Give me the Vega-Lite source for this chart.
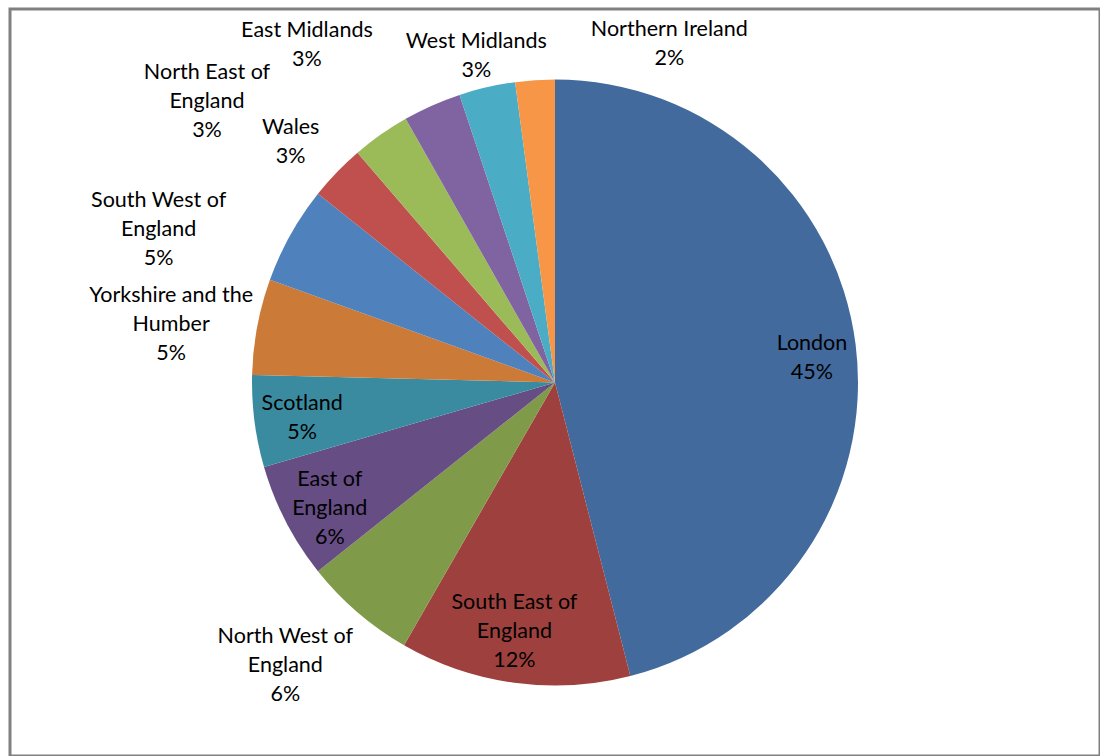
{
  "$schema": "https://vega.github.io/schema/vega-lite/v6.json",
  "width": 1090,
  "height": 747,
  "autosize": {"type": "none"},
  "padding": {"left": 10, "top": 9, "right": 0, "bottom": 0},
  "background": "white",
  "view": {"stroke": "#808080", "strokeWidth": 3},
  "data": {
    "values": [
      {"region": "London", "label": "London\n45%", "value": 46.0, "rank": 1},
      {"region": "South East of England", "label": "South East of\nEngland\n12%", "value": 12.3, "rank": 2},
      {"region": "North West of England", "label": "North West of\nEngland\n6%", "value": 6.0, "rank": 3},
      {"region": "East of England", "label": "East of\nEngland\n6%", "value": 6.2, "rank": 4},
      {"region": "Scotland", "label": "Scotland\n5%", "value": 4.9, "rank": 5},
      {"region": "Yorkshire and the Humber", "label": "Yorkshire and the\nHumber\n5%", "value": 5.1, "rank": 6},
      {"region": "South West of England", "label": "South West of\nEngland\n5%", "value": 5.2, "rank": 7},
      {"region": "Wales", "label": "Wales\n3%", "value": 3.0, "rank": 8},
      {"region": "North East of England", "label": "North East of\nEngland\n3%", "value": 3.1, "rank": 9},
      {"region": "East Midlands", "label": "East Midlands\n3%", "value": 3.1, "rank": 10},
      {"region": "West Midlands", "label": "West Midlands\n3%", "value": 3.0, "rank": 11},
      {"region": "Northern Ireland", "label": "Northern Ireland\n2%", "value": 2.1, "rank": 12}
    ]
  },
  "encoding": {
    "theta": {"field": "value", "type": "quantitative", "stack": true},
    "order": {"field": "rank", "type": "quantitative"}
  },
  "layer": [
    {
      "mark": {"type": "arc", "outerRadius": 303},
      "encoding": {
        "color": {
          "field": "region",
          "type": "nominal",
          "legend": null,
          "scale": {
            "domain": ["London", "South East of England", "North West of England", "East of England", "Scotland", "Yorkshire and the Humber", "South West of England", "Wales", "North East of England", "East Midlands", "West Midlands", "Northern Ireland"],
            "range": ["#426A9C", "#9E413E", "#7F9A48", "#664D84", "#3A8BA0", "#CC7A37", "#4F81BD", "#C0504D", "#9BBB59", "#8064A2", "#4BACC6", "#F79646"]
          }
        }
      }
    },
    {
      "mark": {"type": "text", "radius": 258, "dx": 1, "dy": -6, "font": "Lato", "fontSize": 21.5, "lineHeight": 29, "lineBreak": "\n", "align": "center", "baseline": "middle", "color": "#000000"},
      "encoding": {"text": {"condition": {"test": "datum.region === 'London'", "field": "label"}, "value": ""}}
    },
    {
      "mark": {"type": "text", "radius": 257, "dx": -6, "dy": -34, "font": "Lato", "fontSize": 21.5, "lineHeight": 29, "lineBreak": "\n", "align": "center", "baseline": "middle", "color": "#000000"},
      "encoding": {"text": {"condition": {"test": "datum.region === 'South East of England'", "field": "label"}, "value": ""}}
    },
    {
      "mark": {"type": "text", "radius": 257, "dx": 3, "dy": -21, "font": "Lato", "fontSize": 21.5, "lineHeight": 29, "lineBreak": "\n", "align": "center", "baseline": "middle", "color": "#000000"},
      "encoding": {"text": {"condition": {"test": "datum.region === 'East of England'", "field": "label"}, "value": ""}}
    },
    {
      "mark": {"type": "text", "radius": 257, "dx": 2, "dy": -12, "font": "Lato", "fontSize": 21.5, "lineHeight": 29, "lineBreak": "\n", "align": "center", "baseline": "middle", "color": "#000000"},
      "encoding": {"text": {"condition": {"test": "datum.region === 'Scotland'", "field": "label"}, "value": ""}}
    },
    {
      "mark": {"type": "text", "radius": 360, "dx": 138, "dy": 7, "font": "Lato", "fontSize": 21.5, "lineHeight": 29, "lineBreak": "\n", "align": "center", "baseline": "middle", "color": "#000000"},
      "encoding": {"text": {"condition": {"test": "datum.region === 'Northern Ireland'", "field": "label"}, "value": ""}}
    },
    {
      "mark": {"type": "text", "radius": 360, "dx": 2, "dy": 10, "font": "Lato", "fontSize": 21.5, "lineHeight": 29, "lineBreak": "\n", "align": "center", "baseline": "middle", "color": "#000000"},
      "encoding": {"text": {"condition": {"test": "datum.region === 'West Midlands'", "field": "label"}, "value": ""}}
    },
    {
      "mark": {"type": "text", "radius": 360, "dx": -102, "dy": -22, "font": "Lato", "fontSize": 21.5, "lineHeight": 29, "lineBreak": "\n", "align": "center", "baseline": "middle", "color": "#000000"},
      "encoding": {"text": {"condition": {"test": "datum.region === 'East Midlands'", "field": "label"}, "value": ""}}
    },
    {
      "mark": {"type": "text", "radius": 360, "dx": -141, "dy": -15, "font": "Lato", "fontSize": 21.5, "lineHeight": 29, "lineBreak": "\n", "align": "center", "baseline": "middle", "color": "#000000"},
      "encoding": {"text": {"condition": {"test": "datum.region === 'North East of England'", "field": "label"}, "value": ""}}
    },
    {
      "mark": {"type": "text", "radius": 360, "dx": -5, "dy": -5, "font": "Lato", "fontSize": 21.5, "lineHeight": 29, "lineBreak": "\n", "align": "center", "baseline": "middle", "color": "#000000"},
      "encoding": {"text": {"condition": {"test": "datum.region === 'Wales'", "field": "label"}, "value": ""}}
    },
    {
      "mark": {"type": "text", "radius": 360, "dx": -82, "dy": -6, "font": "Lato", "fontSize": 21.5, "lineHeight": 29, "lineBreak": "\n", "align": "center", "baseline": "middle", "color": "#000000"},
      "encoding": {"text": {"condition": {"test": "datum.region === 'South West of England'", "field": "label"}, "value": ""}}
    },
    {
      "mark": {"type": "text", "radius": 360, "dx": -30, "dy": -20, "font": "Lato", "fontSize": 21.5, "lineHeight": 29, "lineBreak": "\n", "align": "center", "baseline": "middle", "color": "#000000"},
      "encoding": {"text": {"condition": {"test": "datum.region === 'Yorkshire and the Humber'", "field": "label"}, "value": ""}}
    },
    {
      "mark": {"type": "text", "radius": 360, "dx": -35, "dy": -19, "font": "Lato", "fontSize": 21.5, "lineHeight": 29, "lineBreak": "\n", "align": "center", "baseline": "middle", "color": "#000000"},
      "encoding": {"text": {"condition": {"test": "datum.region === 'North West of England'", "field": "label"}, "value": ""}}
    }
  ]
}
